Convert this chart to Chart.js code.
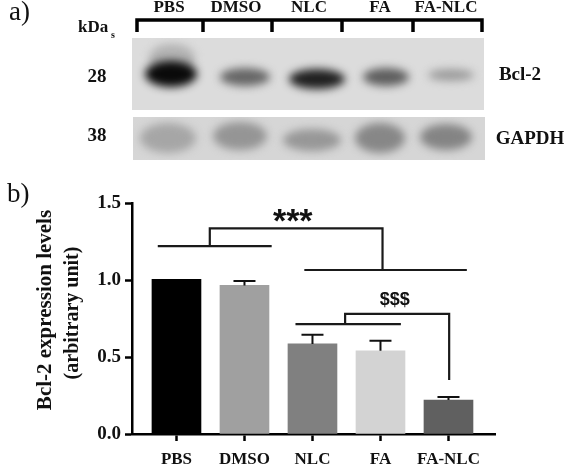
<!DOCTYPE html>
<html>
<head>
<meta charset="utf-8">
<style>
  html, body { margin: 0; padding: 0; background: #fff; }
  #wrap { position: relative; width: 566px; height: 466px; }
</style>
<script src="https://cdn.jsdelivr.net/npm/chart.js@4"></script>
</head>
<body>
<div id="wrap"><canvas id="chart" width="566" height="466"></canvas></div>
<script>
const categories = ['PBS', 'DMSO', 'NLC', 'FA', 'FA-NLC'];
const expression = [1.005, 0.965, 0.585, 0.54, 0.22];
const errorTop = [1.005, 0.993, 0.645, 0.606, 0.24];
const barColors = ['#000000', '#a0a0a0', '#808080', '#d3d3d3', '#606060'];
const yTicks = [0, 0.5, 1, 1.5];

// significance brackets, in axis units
const bracketLeft = [{x:-0.275,y:1.22},{x:1.4,y:1.22},{x:null,y:null},{x:0.49,y:1.22},{x:0.49,y:1.335},{x:3.03,y:1.335},{x:3.03,y:1.065}];
const bracketRight = [{x:1.88,y:1.065},{x:4.27,y:1.065}];
const bracketInner = [{x:1.75,y:0.714},{x:3.3,y:0.714},{x:null,y:null},{x:2.48,y:0.714},{x:2.48,y:0.78},{x:4.01,y:0.78},{x:4.01,y:0.35}];

// blot bands per lane
const laneLabels = ['PBS', 'DMSO', 'NLC', 'FA', 'FA-NLC'];
const bcl2Bands = [
  {x:172,y:58,rx:23,ry:14,c:'#b2b2b2'},
  {x:171,y:74,rx:26,ry:13,c:'#0a0a0a'},
  {x:245,y:77,rx:25,ry:9,c:'#666666'},
  {x:317,y:79,rx:28,ry:10,c:'#202020'},
  {x:386,y:77,rx:23,ry:9,c:'#5e5e5e'},
  {x:451,y:75,rx:23,ry:6,c:'#9c9c9c'}
];
const gapdhBands = [
  {x:168,y:138,rx:28,ry:15,c:'#a6a6a6'},
  {x:240,y:136,rx:27,ry:14,c:'#959595'},
  {x:312,y:140,rx:29,ry:11,c:'#979797'},
  {x:380,y:138,rx:25,ry:15,c:'#878787'},
  {x:446,y:137,rx:26,ry:13,c:'#848484'}
];

const serif = '"Liberation Serif", serif';

function put(ctx, text, x, y, font, align) {
  ctx.font = font;
  ctx.textAlign = align || 'center';
  ctx.textBaseline = 'middle';
  ctx.fillStyle = '#111';
  ctx.fillText(text, x, y);
}

const figurePlugin = {
  id: 'figure',
  beforeDraw(chart) {
    const ctx = chart.ctx;
    ctx.save();
    // blot panels
    const panels = [[132, 38, 352, 72, bcl2Bands, '#dcdcdc'], [133, 117, 352, 43, gapdhBands, '#d6d6d6']];
    panels.forEach(([x, y, w, h, bands, bg]) => {
      ctx.save();
      ctx.beginPath();
      ctx.rect(x, y, w, h);
      ctx.clip();
      ctx.fillStyle = bg;
      ctx.fillRect(x, y, w, h);
      ctx.filter = 'blur(4px)';
      bands.forEach(b => {
        ctx.fillStyle = b.c;
        ctx.beginPath();
        ctx.ellipse(b.x, b.y, b.rx, b.ry, 0, 0, Math.PI * 2);
        ctx.fill();
      });
      ctx.restore();
    });
    // lane bracket
    ctx.strokeStyle = '#000';
    ctx.lineWidth = 3.5;
    ctx.beginPath();
    ctx.moveTo(137, 32);
    ctx.lineTo(137, 20);
    ctx.lineTo(482, 20);
    ctx.lineTo(482, 32);
    [203, 272, 342, 413].forEach(x => {
      ctx.moveTo(x, 20);
      ctx.lineTo(x, 32);
    });
    ctx.stroke();
    const laneX = [169, 236, 309, 380, 446];
    laneLabels.forEach((t, i) => put(ctx, t, laneX[i], 8, 'bold 17px ' + serif));
    put(ctx, 'kDa', 78, 28, 'bold 17px ' + serif, 'left');
    put(ctx, 's', 111, 35, 'bold 10px ' + serif, 'left');
    put(ctx, '28', 97, 77, 'bold 19px ' + serif);
    put(ctx, '38', 97, 136, 'bold 19px ' + serif);
    put(ctx, 'Bcl-2', 520, 75, 'bold 19px ' + serif);
    put(ctx, 'GAPDH', 530, 139, 'bold 19px ' + serif);
    put(ctx, 'a)', 9, 13, '27px ' + serif, 'left');
    put(ctx, 'b)', 7, 195, '27px ' + serif, 'left');
    // y axis title
    ctx.save();
    ctx.translate(46, 310);
    ctx.rotate(-Math.PI / 2);
    put(ctx, 'Bcl-2 expression levels', 0, 0, 'bold 21px ' + serif);
    put(ctx, '(arbitrary unit)', -3, 27, 'bold 20px ' + serif);
    ctx.restore();
    ctx.restore();
  },
  afterDatasetsDraw(chart) {
    const ctx = chart.ctx;
    const xs = chart.scales.x;
    const ys = chart.scales.y;
    ctx.save();
    ctx.strokeStyle = '#111';
    ctx.lineWidth = 2;
    errorTop.forEach((top, i) => {
      if (top <= expression[i]) return;
      const x = xs.getPixelForValue(i);
      ctx.beginPath();
      ctx.moveTo(x, ys.getPixelForValue(expression[i]));
      ctx.lineTo(x, ys.getPixelForValue(top));
      ctx.moveTo(x - 11, ys.getPixelForValue(top));
      ctx.lineTo(x + 11, ys.getPixelForValue(top));
      ctx.stroke();
    });
    put(ctx, '***', xs.getPixelForValue(1.71), ys.getPixelForValue(1.37), 'bold 34px "Liberation Sans", sans-serif');
    put(ctx, '$$$', xs.getPixelForValue(3.21), ys.getPixelForValue(0.87), 'bold 18px "Liberation Sans", sans-serif');
    ctx.restore();
  }
};

const bracketLine = points => ({
  type: 'line',
  data: points,
  borderColor: '#1a1a1a',
  borderWidth: 2.2,
  pointRadius: 0,
  tension: 0,
  spanGaps: false,
  order: 0
});

new Chart(document.getElementById('chart'), {
  data: {
    datasets: [
      {
        type: 'bar',
        data: expression.map((v, i) => ({ x: i, y: v })),
        backgroundColor: barColors,
        barThickness: 49,
        order: 1
      },
      bracketLine(bracketLeft),
      bracketLine(bracketRight),
      bracketLine(bracketInner)
    ]
  },
  options: {
    responsive: false,
    animation: false,
    parsing: false,
    normalized: false,
    layout: { padding: { top: 203, right: 71, left: 0, bottom: 0 } },
    plugins: { legend: { display: false }, tooltip: { enabled: false } },
    scales: {
      x: {
        type: 'linear',
        offset: false,
        min: -0.654,
        max: 4.684,
        afterBuildTicks: axis => { axis.ticks = categories.map((c, i) => ({ value: i })); },
        afterFit: axis => { axis.height = 32; },
        ticks: {
          autoSkip: false,
          maxRotation: 0,
          color: '#111',
          padding: 8,
          font: { family: serif, size: 17, weight: 'bold' },
          callback: v => categories[v]
        },
        grid: { offset: false, drawOnChartArea: false, drawTicks: true, tickLength: 7, tickWidth: 2.5, tickColor: '#000', color: '#000' },
        border: { color: '#000', width: 2.5 }
      },
      y: {
        min: 0,
        max: 1.5,
        afterBuildTicks: axis => { axis.ticks = yTicks.map(v => ({ value: v })); },
        afterFit: axis => { axis.width = 132; },
        ticks: {
          color: '#111',
          padding: 4,
          font: { family: serif, size: 19, weight: 'bold' },
          callback: v => v.toFixed(1)
        },
        grid: { drawOnChartArea: false, drawTicks: true, tickLength: 7, tickWidth: 2.5, tickColor: '#000', color: '#000' },
        border: { color: '#000', width: 2.5 }
      }
    }
  },
  plugins: [figurePlugin]
});
</script>
</body>
</html>
